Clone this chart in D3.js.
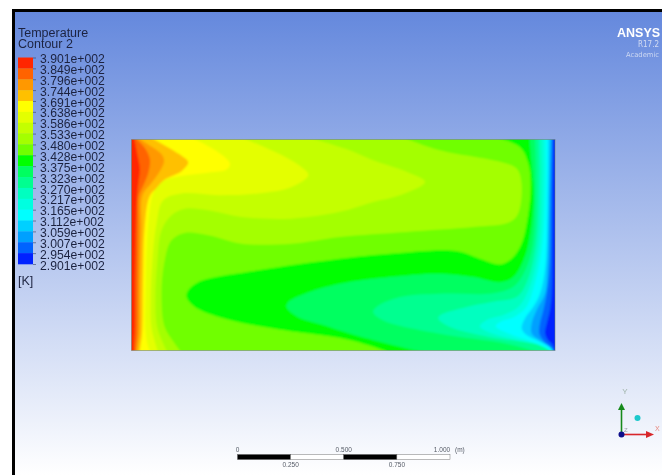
<!DOCTYPE html>
<html><head><meta charset="utf-8">
<script src="https://d3js.org/d3.v7.min.js"></script>
<style>html,body{margin:0;padding:0;background:#fff}svg{display:block}text{font-family:"Liberation Sans",Arial,sans-serif}</style>
</head><body><div id="chart"></div>
<script>
// Legend
const tickLabels = ["3.901e+002","3.849e+002","3.796e+002","3.744e+002","3.691e+002","3.638e+002","3.586e+002","3.533e+002","3.480e+002","3.428e+002","3.375e+002","3.323e+002","3.270e+002","3.217e+002","3.165e+002","3.112e+002","3.059e+002","3.007e+002","2.954e+002","2.901e+002"];
const bandColors = ["#ff2800","#ff6400","#ff9800","#ffc000","#ffff00","#e4ff00","#c4ff00","#a4ff00","#70ff00","#00ff00","#00ff60","#00ff90","#00ffc0","#00ffe0","#00ffff","#00d0ff","#00a0ff","#0064ff","#0020ff"];
// Isotherms, metres (x along the 2 m cavity, y up the 1 m cavity); each one bounds the region hotter than it, from the top wall to the bottom wall
const iso0 = [[.013,1.01],[.03,.92],[.04,.86],[.035,.81],[.027,.735],[.02,.5],[.017,.3],[.016,.1],[.012,.03],[.012,-.01]];
const iso1 = [[.016,1.01],[.063,.96],[.087,.905],[.079,.84],[.055,.78],[.036,.735],[.033,.58],[.03,.3],[.028,.08],[.022,.02],[.02,-.01]];
const iso2 = [[.03,1.01],[.079,.976],[.142,.93],[.154,.897],[.134,.85],[.095,.795],[.052,.735],[.047,.58],[.04,.3],[.038,.08],[.03,.02],[.027,-.01]];
const iso3 = [[.09,1.01],[.19,.953],[.26,.905],[.268,.89],[.236,.85],[.157,.81],[.118,.77],[.085,.73],[.062,.58],[.054,.3],[.05,.08],[.042,.02],[.037,-.01]];
const iso4 = [[.283,1.01],[.394,.95],[.465,.886],[.449,.858],[.362,.843],[.236,.827],[.142,.80],[.102,.744],[.082,.633],[.072,.49],[.066,.253],[.066,.095],[.079,.016],[.09,-.01]];
const iso5 = [[.52,1.01],[.724,.918],[.811,.862],[.835,.831],[.756,.775],[.598,.744],[.409,.736],[.236,.744],[.15,.712],[.118,.6],[.098,.411],[.091,.253],[.094,.111],[.113,.032],[.126,-.01]];
const iso6 = [[.835,1.01],[1.008,.957],[1.141,.902],[1.299,.847],[1.386,.799],[1.267,.736],[1.141,.704],[.984,.657],[.756,.625],[.52,.633],[.362,.665],[.252,.672],[.189,.641],[.142,.57],[.121,.411],[.113,.253],[.121,.111],[.15,.032],[.17,-.01]];
const iso7 = [[1.283,1.01],[1.456,.949],[1.74,.894],[1.819,.862],[1.842,.791],[1.826,.649],[1.787,.609],[1.614,.585],[1.299,.562],[.984,.538],[.756,.506],[.52,.506],[.362,.546],[.252,.557],[.189,.522],[.154,.411],[.142,.253],[.157,.111],[.205,.032],[.236,-.01]];
const iso8 = [[1.724,1.01],[1.834,.965],[1.874,.886],[1.885,.775],[1.874,.649],[1.842,.506],[1.795,.435],[1.74,.408],[1.645,.435],[1.535,.472],[1.22,.459],[.984,.435],[.598,.38],[.315,.324],[.268,.285],[.26,.253],[.299,.206],[.441,.15],[.677,.103],[1.008,.055],[1.12,.025],[1.22,-.01]];
const iso9 = [[1.88,1.01],[1.888,.9],[1.9,.75],[1.89,.6],[1.86,.45],[1.803,.348],[1.74,.324],[1.614,.348],[1.456,.364],[1.22,.348],[.984,.316],[.819,.269],[.74,.229],[.732,.206],[.787,.158],[.913,.119],[.984,.095],[1.141,.05],[1.3,.01],[1.4,-.01]];
const iso10 = [[1.905,1.01],[1.909,.85],[1.895,.5],[1.85,.36],[1.8,.3],[1.7,.27],[1.456,.269],[1.268,.253],[1.157,.206],[1.141,.182],[1.189,.142],[1.456,.079],[1.771,.032],[1.929,-.01]];
const iso11 = [[1.923,1.01],[1.926,.85],[1.91,.5],[1.865,.32],[1.82,.255],[1.7,.23],[1.582,.206],[1.456,.166],[1.449,.15],[1.504,.111],[1.693,.063],[1.929,.024],[1.99,-.01]];
const iso12 = [[1.94,1.01],[1.942,.85],[1.925,.5],[1.88,.3],[1.83,.21],[1.76,.17],[1.69,.15],[1.645,.115],[1.69,.085],[1.8,.055],[1.9,.03],[1.975,-.01]];
const iso13 = [[1.955,1.01],[1.957,.85],[1.94,.5],[1.9,.3],[1.86,.2],[1.8,.155],[1.75,.14],[1.72,.115],[1.78,.08],[1.88,.045],[1.96,.01],[1.985,-.01]];
const iso14 = [[1.968,1.01],[1.965,.7],[1.955,.4],[1.93,.27],[1.898,.207],[1.858,.152],[1.843,.104],[1.866,.073],[1.929,.041],[1.984,.009],[1.99,-.01]];
const iso15 = [[1.98,1.01],[1.973,.7],[1.965,.4],[1.953,.27],[1.913,.191],[1.89,.128],[1.89,.081],[1.929,.049],[1.968,.02],[1.99,-.01]];
const iso16 = [[1.985,1.01],[1.98,.7],[1.975,.4],[1.961,.27],[1.945,.191],[1.929,.128],[1.926,.081],[1.95,.041],[1.975,.017],[1.995,-.01]];
const iso17 = [[1.992,1.01],[1.989,.7],[1.987,.4],[1.984,.27],[1.976,.191],[1.961,.128],[1.953,.081],[1.97,.045],[1.984,.033],[1.997,.004],[2,-.01]];
const isotherms = [iso0,iso1,iso2,iso3,iso4,iso5,iso6,iso7,iso8,iso9,iso10,iso11,iso12,iso13,iso14,iso15,iso16,iso17];
// Scale bar
const barStops = [0,.25,.5,.75,1];
const barTop = ["0","0.500","1.000"];
const barBottom = ["0.250","0.750"];

const W=662,H=475;
const svg=d3.select("#chart").append("svg").attr("width",W).attr("height",H);
const defs=svg.append("defs");
const grad=defs.append("linearGradient").attr("id","bg").attr("x1",0).attr("x2",0).attr("y1",0).attr("y2",1);
grad.append("stop").attr("offset",0).attr("stop-color","#6488dd");
grad.append("stop").attr("offset",1).attr("stop-color","#ffffff");
const blur=defs.append("filter").attr("id","soft").attr("x","-2%").attr("y","-2%").attr("width","104%").attr("height","104%");
blur.append("feGaussianBlur").attr("stdDeviation",1);
const tblur=defs.append("filter").attr("id","softText");
tblur.append("feGaussianBlur").attr("stdDeviation",.3);

// Viewport and frame
svg.append("rect").attr("x",13).attr("y",10).attr("width",W-13).attr("height",H-10).attr("fill","url(#bg)");
svg.append("rect").attr("x",12).attr("y",9).attr("width",3).attr("height",H-9).attr("fill","#000");
svg.append("rect").attr("x",12).attr("y",9).attr("width",W-12).attr("height",3).attr("fill","#000");

// Field
const x=d3.scaleLinear([0,2],[131.5,555]);
const y=d3.scaleLinear([0,1],[350.5,139.5]);
defs.append("clipPath").attr("id","box").append("rect")
 .attr("x",x(0)).attr("y",y(1)).attr("width",x(2)-x(0)).attr("height",y(0)-y(1));
const line=d3.line().x(d=>x(d[0])).y(d=>y(d[1])).curve(d3.curveCatmullRom.alpha(.5));
const field=svg.append("g").attr("clip-path","url(#box)").append("g").attr("filter","url(#soft)");
field.append("rect").attr("x",x(0)-5).attr("y",y(1)-5).attr("width",x(2)-x(0)+10).attr("height",y(0)-y(1)+10).attr("fill",bandColors[18]);
field.selectAll("path").data(isotherms.map((c,i)=>({c,i})).reverse()).join("path")
 .attr("d",d=>line(d.c)+`L${x(-.1)},${y(-.1)}L${x(-.1)},${y(1.1)}Z`)
 .attr("fill",d=>bandColors[d.i]);
svg.append("rect").attr("x",x(0)).attr("y",y(1)).attr("width",x(2)-x(0)).attr("height",y(0)-y(1))
 .attr("fill","none").attr("stroke","#6f7f6a").attr("stroke-opacity",.55).attr("stroke-width",1);

// Legend
const ink="#1c2340";
const texts=svg.append("g").attr("filter","url(#softText)");
const lg=d3.scaleLinear([0,tickLabels.length-1],[57.5,264]);
texts.append("g").selectAll("rect").data(bandColors).join("rect")
 .attr("x",18).attr("width",15).attr("y",(d,i)=>lg(i)).attr("height",(d,i)=>lg(i+1)-lg(i)+.3).attr("fill",d=>d);
const axis=d3.axisRight(lg).tickValues(d3.range(tickLabels.length)).tickFormat(i=>tickLabels[i]).tickSize(3).tickPadding(4);
const ag=texts.append("g").attr("transform","translate(33,0)").call(axis);
ag.select(".domain").remove();
ag.selectAll("line").attr("stroke","#34405f").attr("stroke-width",.6);
ag.selectAll("text").attr("font-size",12.2).attr("fill",ink).attr("dy","0.42em");
texts.append("text").attr("x",18).attr("y",37).attr("font-size",12.5).attr("fill",ink).text("Temperature");
texts.append("text").attr("x",18).attr("y",48).attr("font-size",12.5).attr("fill",ink).text("Contour 2");
texts.append("text").attr("x",18).attr("y",285).attr("font-size",12.5).attr("fill",ink).text("[K]");

// Logo
texts.append("text").attr("x",617).attr("y",37).attr("font-size",12.5).attr("font-weight","bold")
 .attr("fill","#fff").text("ANSYS");
texts.append("text").attr("x",638).attr("y",47).attr("font-size",8)
 .attr("fill","#d3dcf3").style("font-family","'DejaVu Sans'").attr("textLength",21).attr("lengthAdjust","spacingAndGlyphs").text("R17.2");
texts.append("text").attr("x",626).attr("y",57).attr("font-size",7)
 .attr("fill","#cdd8f2").style("font-family","'DejaVu Sans'").attr("textLength",33).attr("lengthAdjust","spacingAndGlyphs").text("Academic");

// Scale bar
const sb=d3.scaleLinear([0,1],[237.5,450]);
d3.pairs(barStops).forEach((p,i)=>{
 texts.append("rect").attr("x",sb(p[0])).attr("y",454.5).attr("width",sb(p[1])-sb(p[0])).attr("height",5)
  .attr("fill",i%2?"#fff":"#000").attr("stroke","#555").attr("stroke-width",.4);
});
const grey="#555b66";
[[0,barTop[0]],[.5,barTop[1]],[1,barTop[2]]].forEach(([v,t],i)=>{
 texts.append("text").attr("x",i==2?sb(v)-8:sb(v)).attr("y",452).attr("text-anchor","middle").attr("font-size",6.5).attr("fill",grey).text(t);
});
texts.append("text").attr("x",455).attr("y",452).attr("font-size",6.5).attr("fill",grey).text("(m)");
[[.25,barBottom[0]],[.75,barBottom[1]]].forEach(([v,t])=>{
 texts.append("text").attr("x",sb(v)).attr("y",467).attr("text-anchor","middle").attr("font-size",6.5).attr("fill",grey).text(t);
});

// Triad
const tr=texts.append("g");
tr.append("line").attr("x1",621.5).attr("x2",621.5).attr("y1",434).attr("y2",408).attr("stroke","#178a1e").attr("stroke-width",1.6);
tr.append("path").attr("d","M621.5,403L618,410L625,410Z").attr("fill","#178a1e");
tr.append("line").attr("x1",621.5).attr("x2",648).attr("y1",434.5).attr("y2",434.5).attr("stroke","#d8262a").attr("stroke-width",1.6);
tr.append("path").attr("d","M654,434.5L646,431L646,438Z").attr("fill","#d8262a");
tr.append("circle").attr("cx",621.5).attr("cy",434.5).attr("r",3).attr("fill","#10108a");
tr.append("circle").attr("cx",637.5).attr("cy",418).attr("r",3).attr("fill","#1fc8cc");
tr.append("text").attr("x",625).attr("y",394).attr("text-anchor","middle").attr("font-size",8).attr("fill","#9fb3a8").text("Y");
tr.append("text").attr("x",624).attr("y",432).attr("font-size",6).attr("fill","#9aa0a8").text("Z");
tr.append("text").attr("x",655).attr("y",431).attr("font-size",7).attr("fill","#e88a80").text("X");
</script></body></html>
